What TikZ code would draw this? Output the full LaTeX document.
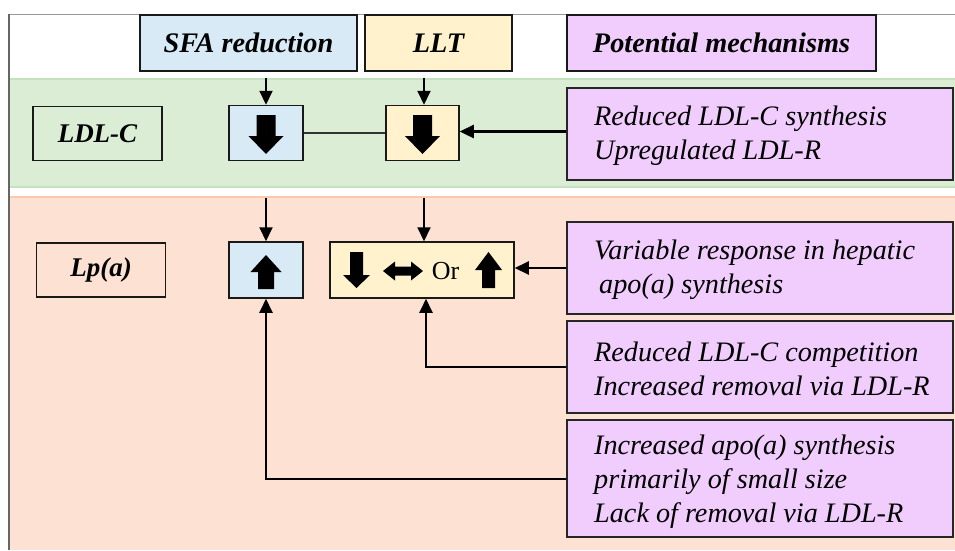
\documentclass[tikz,border=0pt]{standalone}
\usepackage{fontspec}
\setmainfont{Liberation Serif}
\usetikzlibrary{arrows.meta}
\definecolor{bluec}{RGB}{216,234,246}
\definecolor{yellc}{RGB}{255,242,204}
\definecolor{mechc}{RGB}{240,205,253}
\definecolor{greenband}{RGB}{219,237,213}
\definecolor{greenedge}{RGB}{196,226,190}
\definecolor{salmonband}{RGB}{253,225,211}
\definecolor{salmonedge}{RGB}{250,200,172}
\begin{document}
\begin{tikzpicture}[x=1pt,y=-1pt,
  box/.style={draw=black!90, line width=1.5pt, inner sep=0pt},
  hdr/.style={box, font=\fontsize{28.3}{32}\selectfont\bfseries\itshape, minimum height=56pt},
  lab/.style={box, font=\fontsize{27}{32}\selectfont\bfseries\itshape, minimum width=129pt, minimum height=54pt},
  sbox/.style={box, minimum width=74pt, minimum height=55pt},
  mech/.style={draw=black!85, line width=2pt, fill=mechc, inner sep=0pt, minimum width=386pt},
  mtext/.style={anchor=west, xshift=28pt, yshift=-1.5pt, inner sep=0pt, align=left, font=\fontsize{28.2}{34}\selectfont\itshape},
  conn/.style={line width=2pt, -{Triangle[length=14pt,width=13pt]}},
  blk/.style={fill=black}
]
\useasboundingbox (0,0) rectangle (955,550);
% bands
\fill[greenband] (10,78) rectangle (955,188);
\draw[greenedge, line width=2pt] (10,79) -- (955,79);
\draw[greenedge, line width=2pt] (10,187) -- (955,187);
\fill[salmonband] (10,196) rectangle (955,550);
\draw[salmonedge, line width=2pt] (10,197) -- (955,197);
% frame
\draw[black!40, line width=1.5pt] (9,14.5) -- (955,14.5);
\draw[black!60, line width=1.5pt] (9,14) -- (9,550);
% headers
\node[hdr, fill=bluec, minimum width=217pt] (hsfa) at (248.5,43) {SFA reduction};
\node[hdr, fill=yellc, minimum width=147pt] (hllt) at (438.5,43) {LLT};
\node[hdr, fill=mechc, minimum width=309pt] (hmech) at (721.5,43) {Potential mechanisms};
% LDL-C row
\node[lab] (ldl) at (97.5,133.5) {LDL-C};
\node[sbox, fill=bluec] (sfa1) at (266,133) {};
\node[sbox, fill=yellc, minimum width=73pt] (llt1) at (422.5,133) {};
\node[mech, minimum height=92pt, label={[mtext]west:Reduced LDL-C synthesis\\Upregulated LDL-R}] (m1) at (760,134) {};
% Lp(a) row
\node[lab] (lpa) at (101,270) {Lp(a)};
\node[sbox, fill=bluec, minimum height=56pt] (sfa2) at (266,270) {};
\node[sbox, fill=yellc, minimum width=184pt, minimum height=56pt] (combo) at (422,270) {};
\node[mech, minimum height=92pt, label={[mtext]west:Variable response in hepatic\\\hspace{5pt}apo(a) synthesis}] (m2) at (760,268) {};
\node[mech, minimum height=92pt, label={[mtext]west:Reduced LDL-C competition\\Increased removal via LDL-R}] (m3) at (760,367) {};
\node[mech, minimum height=117pt, label={[mtext, yshift=-2pt]west:Increased apo(a) synthesis\\primarily of small size\\Lack of removal via LDL-R}] (m4) at (760,478.5) {};
% block arrows
\fill[blk] (256.5,115) -- (275.5,115) -- (275.5,136) -- (283.5,136) -- (266,154) -- (248.5,136) -- (256.5,136) -- cycle;
\fill[blk] (413,115) -- (432,115) -- (432,136) -- (440,136) -- (422.5,154) -- (405,136) -- (413,136) -- cycle;
\fill[blk] (258,289) -- (274,289) -- (274,272) -- (281.5,272) -- (266,255) -- (250.5,272) -- (258,272) -- cycle;
\fill[blk] (350,252) -- (363,252) -- (363,275) -- (370,275) -- (356.5,288) -- (343,275) -- (350,275) -- cycle;
\fill[blk] (383,271) -- (395,261.5) -- (395,266.5) -- (411,266.5) -- (411,261.5) -- (423,271) -- (411,280.5) -- (411,275.5) -- (395,275.5) -- (395,280.5) -- cycle;
\node[font=\fontsize{26}{30}\selectfont, inner sep=0pt] (ortext) at (445.5,271) {Or};
\fill[blk] (482,288) -- (495,288) -- (495,270) -- (502,270) -- (488.5,252) -- (475,270) -- (482,270) -- cycle;
% connectors
\coordinate (t1) at (266,78);
\coordinate (t2) at (424,78);
\coordinate (t3) at (266,198);
\coordinate (t4) at (424,198);
\draw[conn] (t1) -- (sfa1.north);
\draw[conn] (t2) -- (t2 |- llt1.north);
\draw[conn] (t3) -- (sfa2.north);
\draw[conn] (t4) -- (t4 |- combo.north);
\draw[black!80, line width=1.3pt] (sfa1.east) -- (llt1.west);
\draw[conn, line width=2.4pt] (m1.west |- 0,131.5) -- (llt1.east |- 0,131.5);
\draw[conn] (m2.west) -- (m2.west -| combo.east);
\draw[conn] (m3.west) -| ([xshift=4pt]combo.south);
\draw[conn] (m4.west) -| (sfa2.south);
\end{tikzpicture}
\end{document}
